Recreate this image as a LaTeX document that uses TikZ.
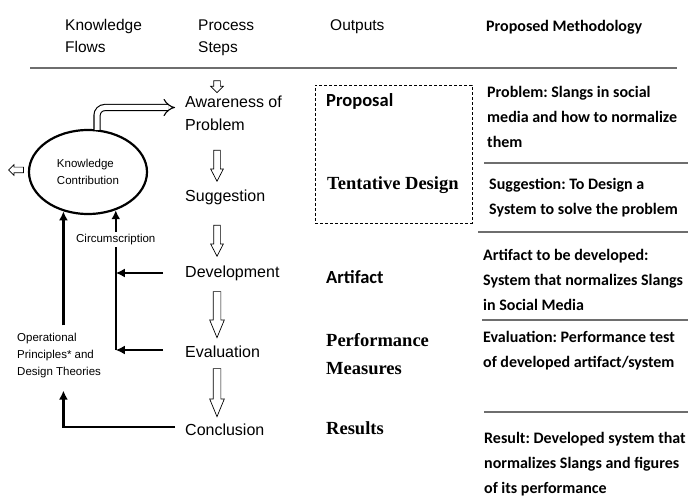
\documentclass[tikz,border=0pt]{standalone}
\usepackage{fontspec}
\setmainfont{Liberation Sans}
\newfontfamily\calfont{Carlito}
\newfontfamily\serfont{Liberation Serif}
\usetikzlibrary{positioning,arrows.meta,shapes.geometric,shapes.arrows,calc}
\definecolor{rulegray}{RGB}{110,110,110}
\frenchspacing

\begin{document}
\begin{tikzpicture}[x=1pt, y=-1pt,
    head/.style={font=\fontsize{15.5}{22}\selectfont, align=left, anchor=west, inner sep=0pt},
    stepnode/.style={font=\fontsize{16}{23}\selectfont, align=left, anchor=west, inner sep=0pt},
    small/.style={font=\fontsize{11.5}{17}\selectfont, align=left, inner sep=0pt},
    outcal/.style={font=\calfont\bfseries\fontsize{18.5}{24}\selectfont, anchor=west, inner sep=0pt},
    outser/.style={font=\serfont\bfseries\fontsize{18.5}{28}\selectfont, align=left, anchor=west, inner sep=0pt},
    method/.style={font=\calfont\bfseries\fontsize{16}{25}\selectfont, align=left, anchor=west, inner sep=0pt},
    rule/.style={rulegray, line width=1.2pt},
    downarr/.style={single arrow, draw, fill=white, line width=0.7pt, inner sep=3pt, single arrow head extend=3pt, single arrow tip angle=55, shape border rotate=270},
    flow/.style={line width=2.2pt, -{Latex[length=9pt,width=9pt]}},
]
    \useasboundingbox (0,0) rectangle (688,497);

    % column heads
    \node[head] (hkf) at (65,36) {Knowledge\\Flows};
    \node[head] (hps) at (198,38) {Process\\Steps};
    \node[head] (hout) at (330,27) {Outputs};
    \node[method] (hpm) at (486,27) {Proposed Methodology};
    \draw[rule] (30,68) -- (677,68);

    % process steps
    \node[stepnode] (aw) at (185,113.5) {Awareness of\\Problem};
    \node[stepnode] (sg) at (185,197) {Suggestion};
    \node[stepnode] (dv) at (185,273) {Development};
    \node[stepnode] (ev) at (185,352) {Evaluation};
    \node[stepnode] (cn) at (185,430) {Conclusion};

    \node[downarr, minimum height=12pt, single arrow tip angle=90] (d0) at (217,85) {};
    \node[downarr, minimum height=31pt] (d1) at (217,162.5) {};
    \node[downarr, minimum height=31pt] (d2) at (217,237.5) {};
    \node[downarr, minimum height=46pt, inner sep=3.5pt, single arrow head extend=3.5pt, single arrow tip angle=45] (d3) at (217,310) {};
    \node[downarr, minimum height=48pt, inner sep=3.5pt, single arrow head extend=3.5pt, single arrow tip angle=45] (d4) at (217,388) {};

    % knowledge flows
    \node[draw, ellipse, line width=2.2pt, minimum width=118pt, minimum height=84pt, small] (kc) at (88,172) {Knowledge\\Contribution};
    \node[downarr, minimum height=15pt, inner sep=2.5pt, single arrow head extend=2.5pt, single arrow tip angle=90, shape border rotate=180] (kout) at (17.5,170) {};
    \draw[line width=1.1pt, double distance=5pt, -{Implies}, rounded corners=8pt]
        ([xshift=9pt,yshift=-1pt]kc.north) |- ([xshift=-10pt,yshift=6pt]aw.west);

    \node[small, anchor=west] (op) at (17,356) {Operational\\Principles* and\\Design Theories};
    \draw[flow] ([yshift=8pt]op.north -| kc.238) -- (kc.238);
    \draw[flow] ([yshift=2pt]ev.west -| kc.306) -- (kc.306)
        node[pos=0.79, small, fill=white, inner sep=2pt] {Circumscription};
    \draw[flow] ([xshift=-22pt]dv.west) -- (dv.west -| kc.306);
    \draw[flow] ([xshift=-22pt,yshift=2pt]ev.west) -- ([yshift=2pt]ev.west -| kc.306);
    \draw[flow] ([xshift=-10pt,yshift=3pt]cn.west) -| ([yshift=-12pt]op.south -| kc.238);

    % outputs
    \node[draw, dash pattern=on 3pt off 2pt, line width=0.9pt, minimum width=157pt, minimum height=138pt, inner sep=0pt] (pbox) at (393.5,154) {};
    \node[outcal] (prop) at (326,101) {Proposal};
    \node[outser] (tent) at (327,185) {Tentative Design};
    \node[outcal] (art) at (326,277) {Artifact};
    \node[outser] (perf) at (326,354) {Performance\\Measures};
    \node[outser] (res) at (326,428) {Results};

    % proposed methodology
    \node[method] (m1) at (487,117) {Problem: Slangs in social\\media and how to normalize\\them};
    \draw[rule] (484,163) -- (688,163);
    \node[method] (m2) at (489,197.5) {Suggestion: To Design a\\System to solve the problem};
    \draw[rule] (478,232) -- (688,232);
    \node[method] (m3) at (483,280) {Artifact to be developed:\\System that normalizes Slangs\\in Social Media};
    \draw[rule] (482,320) -- (688,320);
    \node[method] (m4) at (483,350.5) {Evaluation: Performance test\\of developed artifact/system};
    \draw[rule] (484,412) -- (688,412);
    \node[method] (m5) at (484,464) {Result: Developed system that\\normalizes Slangs and figures\\of its performance};
\end{tikzpicture}
\end{document}
